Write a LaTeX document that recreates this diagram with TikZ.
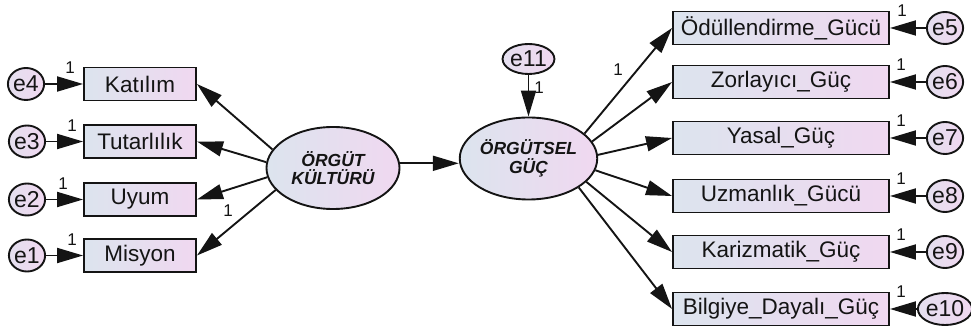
\documentclass[tikz,border=0pt]{standalone}
\usepackage{fontspec}
\setmainfont{Liberation Sans}
\usetikzlibrary{arrows.meta,shapes.geometric}
\definecolor{cl}{HTML}{DCE4EE}
\definecolor{cr}{HTML}{F0D8F0}
\definecolor{ink}{HTML}{141414}
\tikzset{
  obs/.style={rectangle, draw=ink, line width=1.9pt, left color=cl, right color=cr,
    minimum height=33pt, inner sep=0pt, text=ink, font=\fontsize{22.5}{24}\selectfont},
  err/.style={ellipse, draw=ink, line width=1.9pt, left color=cl!60!cr, right color=cr,
    minimum width=36pt, minimum height=32pt, inner sep=0pt, text=ink, font=\fontsize{23}{24}\selectfont},
  lat/.style={ellipse, draw=ink, line width=1.9pt, left color=cl, right color=cr,
    minimum width=133pt, minimum height=82pt, inner sep=0pt, text=ink, align=center,
    font=\fontsize{17.5}{18.5}\selectfont\bfseries\itshape},
  arr/.style={draw=ink, line width=1.9pt, -{Triangle[length=26pt,width=15pt]}},
  one/.style={inner sep=0pt, text=ink, font=\fontsize{17}{17}\selectfont}
}
\begin{document}
\begin{tikzpicture}[x=1pt,y=-1pt]
\useasboundingbox (0,0) rectangle (971,328);
% latent variables
\node[lat] (ok) at (333,168) {ÖRGÜT\\KÜLTÜRÜ};
\node[lat] (og) at (528.5,158.5) {ÖRGÜTSEL\\GÜÇ};
\node[err, minimum width=47pt, minimum height=30pt] (e11) at (528.5,59) {e11};
% left indicators
\node[obs, minimum width=112pt] (kat) at (140,84) {Katılım};
\node[obs, minimum width=112pt] (tut) at (140,141.5) {Tutarlılık};
\node[obs, minimum width=112pt] (uyu) at (140,199.5) {Uyum};
\node[obs, minimum width=112pt] (mis) at (140,255.5) {Misyon};
\node[err] (e4) at (26,84) {e4};
\node[err] (e3) at (27,141.5) {e3};
\node[err] (e2) at (27,199.5) {e2};
\node[err] (e1) at (27,255.5) {e1};
% right indicators
\node[obs, minimum width=216pt] (odu) at (781,28) {Ödüllendirme\_Gücü};
\node[obs, minimum width=216pt] (zor) at (781,82) {Zorlayıcı\_Güç};
\node[obs, minimum width=216pt] (yas) at (781,138) {Yasal\_Güç};
\node[obs, minimum width=216pt] (uzm) at (781,196) {Uzmanlık\_Gücü};
\node[obs, minimum width=216pt] (kar) at (781,252) {Karizmatik\_Güç};
\node[obs, minimum width=216pt] (bil) at (781,309) {Bilgiye\_Dayalı\_Güç};
\node[err] (e5) at (945,28) {e5};
\node[err] (e6) at (945,82) {e6};
\node[err] (e7) at (945,138) {e7};
\node[err] (e8) at (945,196) {e8};
\node[err] (e9) at (945,252) {e9};
\node[err] (e10) at (945,309) {e10};
% structural path
\draw[arr] (ok.4) -- (ok.4 -| og.west);
\draw[arr] (e11) -- (og);
% loadings left
\draw[arr] (ok.163) -- (kat.east);
\draw[arr] (ok.175) -- (tut.east);
\draw[arr] (ok.188) -- (uyu.east);
\draw[arr] (ok.201) -- (mis.east);
% loadings right
\draw[arr] (og.24) -- (odu.west);
\draw[arr] (og.15) -- (zor.west);
\draw[arr] (og.3) -- (yas.west);
\draw[arr] (og.-10) -- (uzm.west);
\draw[arr] (og.-22) -- (kar.west);
\draw[arr] (og.-30) -- (bil.west);
% errors
\draw[arr] (e4) -- (kat);
\draw[arr] (e3) -- (tut);
\draw[arr] (e2) -- (uyu);
\draw[arr] (e1) -- (mis);
\draw[arr] (e5) -- (odu);
\draw[arr] (e6) -- (zor);
\draw[arr] (e7) -- (yas);
\draw[arr] (e8) -- (uzm);
\draw[arr] (e9) -- (kar);
\draw[arr] (e10) -- (bil);
% labels
\node[one] (l4) at (70,68) {1};
\node[one] (l3) at (72,126) {1};
\node[one] (l2) at (63,184) {1};
\node[one] (l1) at (72,240) {1};
\node[one] (lm) at (228,211) {1};
\node[one] (lo) at (618,70) {1};
\node[one] (l11) at (539,88) {1};
\node[one] (l5) at (902,11) {1};
\node[one] (l6) at (901,65) {1};
\node[one] (l7) at (901,121) {1};
\node[one] (l8) at (901,179) {1};
\node[one] (l9) at (901,235) {1};
\node[one] (l10) at (901,292) {1};
\end{tikzpicture}
\end{document}
